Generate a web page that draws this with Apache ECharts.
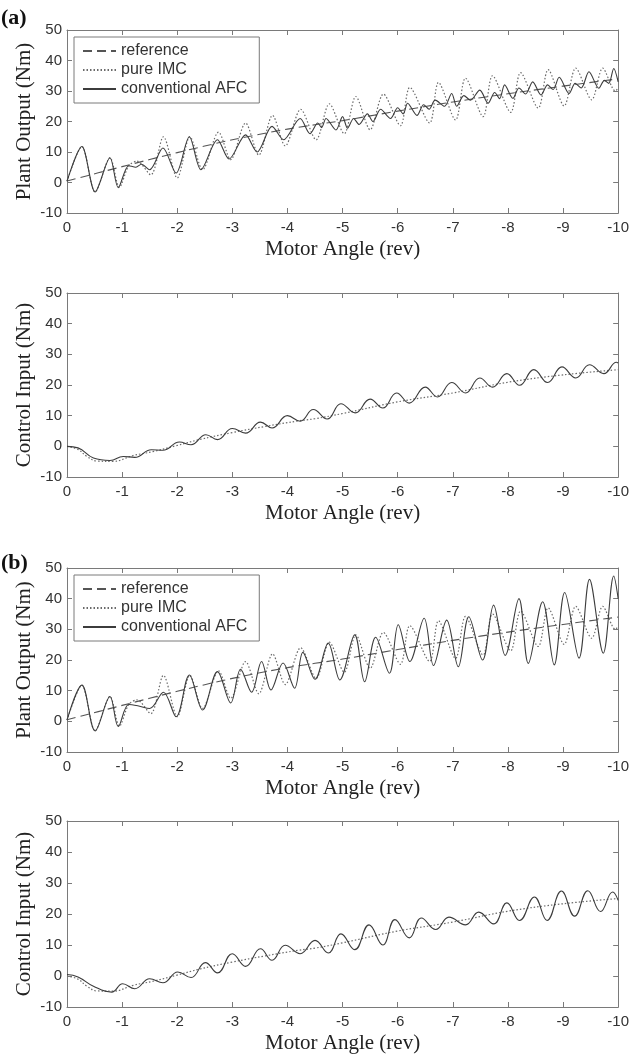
<!DOCTYPE html>
<html><head><meta charset="utf-8">
<script src="https://cdn.jsdelivr.net/npm/echarts@6/dist/echarts.min.js"></script>
<style>html,body{margin:0;padding:0;background:#fff}#c{width:632px;height:1057px}</style>
</head><body><div id="c"></div>
<script>
// ---- data (x = motor angle in rev, y = torque in Nm) ----
const referenceLine = [[0,0.5],[-1,5.2],[-2,9.8],[-3,14],[-4,17.5],[-5,20.3],[-6,23.4],[-7,26.4],[-8,29.1],[-9,31.6],[-10,34]];

const imcPlant = [[0,0.4],[-0.27,11.8],[-0.51,-3.1],[-0.78,8.1],[-0.95,-1.6],[-1.12,5.5],[-1.27,7],[-1.52,2.5],[-1.75,15],[-2.0,1.5],
  [-2.23,15],[-2.46,4.2],[-2.75,16.5],[-2.97,7.5],[-3.24,19.5],[-3.48,9],[-3.73,22],[-3.96,12],[-4.24,24],[-4.52,14],
  [-4.76,25.8],[-5.03,16],[-5.24,28.2],[-5.5,17.3],[-5.74,29],[-6.05,18.6],[-6.22,31.2],[-6.58,19.5],[-6.74,32.8],[-7.05,20.5],
  [-7.23,34.2],[-7.55,21.6],[-7.72,35],[-8.05,23],[-8.23,36],[-8.55,24.4],[-8.73,37],[-9.02,25.1],[-9.23,37.5],[-9.52,27.1],
  [-9.72,37.5],[-9.95,30],[-10,31]];

const afcPlantA = [[0,0.4],[-0.27,11.8],[-0.51,-3.1],[-0.78,8.1],[-0.93,-1.7],[-1.12,5.5],[-1.25,5],[-1.35,6],[-1.5,4.2],[-1.74,11.3],
  [-1.98,3.1],[-2.22,15],[-2.43,4.2],[-2.73,14],[-2.94,7.7],[-3.24,15.6],[-3.45,10],[-3.72,18.4],[-3.93,14],[-4.23,21],
  [-4.41,16],[-4.55,19.5],[-4.62,18],[-4.7,21],[-4.88,17.2],[-5.0,21.6],[-5.09,17.8],[-5.2,21],[-5.3,19],[-5.45,22.5],
  [-5.55,20],[-5.69,24],[-5.87,21],[-6.0,24.5],[-6.1,22.5],[-6.18,26],[-6.35,22],[-6.47,25.5],[-6.57,24],[-6.68,27],
  [-6.85,25],[-6.98,29.2],[-7.07,25],[-7.2,28.5],[-7.32,27],[-7.49,30.3],[-7.64,26],[-7.76,29.5],[-7.85,27.5],[-7.94,32],
  [-8.09,27.6],[-8.2,31],[-8.32,29],[-8.45,33],[-8.6,28.7],[-8.72,32],[-8.82,30.5],[-8.93,34.5],[-9.11,29.2],[-9.22,32.5],
  [-9.33,31],[-9.47,36.3],[-9.65,30.9],[-9.75,33.5],[-9.83,32.5],[-9.92,37.4],[-10,33]];

const afcPlantB = [[0,0.4],[-0.27,11.8],[-0.51,-3.1],[-0.78,8.1],[-0.93,-1.7],[-1.12,5.5],[-1.3,5],[-1.5,4.2],[-1.75,9.5],[-1.98,1.5],
  [-2.22,15.1],[-2.46,3.7],[-2.73,16.2],[-2.97,6],[-3.15,17],[-3.35,9.5],[-3.53,19.5],[-3.7,10.2],[-3.92,19],[-4.13,10.8],
  [-4.28,22.5],[-4.5,13.7],[-4.74,25.5],[-4.95,13.5],[-5.22,28.2],[-5.4,12.9],[-5.6,27.4],[-5.85,15.7],[-6.01,31.5],[-6.22,19.5],
  [-6.48,33.6],[-6.65,18.2],[-6.89,33],[-7.1,17.8],[-7.29,34.1],[-7.54,20],[-7.74,37.9],[-7.95,21.5],[-8.2,40],[-8.37,18.9],
  [-8.63,39],[-8.84,18.4],[-9.03,42],[-9.29,20.6],[-9.48,46.3],[-9.73,22.2],[-9.92,47.4],[-10,40]];

const imcControl = [[0,0],[-0.2,-1],[-0.36,-3.3],[-0.54,-4.8],[-0.84,-4.9],[-1.2,-3],[-1.56,-1.7],[-1.98,0.2],[-2.4,2.2],[-3,4.5],
  [-3.6,6.5],[-4.2,8.3],[-4.5,9],[-5,10.7],[-6,14.5],[-7,17.4],[-8,20.9],[-9,23.3],[-10,25]];

const afcControlA = [[0,0],[-0.2,-0.5],[-0.48,-3.8],[-0.78,-4.6],[-1.02,-3.3],[-1.23,-3.6],[-1.53,-1.1],[-1.74,-1.3],[-2.04,1.4],[-2.25,0.5],
  [-2.52,3.8],[-2.73,2.2],[-3.0,5.8],[-3.24,4.3],[-3.51,7.9],[-3.72,6],[-4.0,10],[-4.23,8.2],[-4.47,12],[-4.72,8.9],
  [-4.97,13.9],[-5.23,10.9],[-5.5,15.4],[-5.73,12.5],[-5.98,17.4],[-6.21,14.1],[-6.5,19.3],[-6.72,16.1],[-6.98,20.8],[-7.23,17.4],
  [-7.49,22.3],[-7.72,19.3],[-7.98,23.7],[-8.21,19.9],[-8.47,25],[-8.72,20.8],[-8.98,25.9],[-9.23,22.3],[-9.48,26.6],[-9.74,23.7],
  [-9.97,27.4],[-10,27.2]];

const afcControlB = [[0,0.5],[-0.2,-0.3],[-0.48,-3.3],[-0.81,-5.2],[-1.01,-2.5],[-1.23,-4.1],[-1.5,-0.9],[-1.74,-2.2],[-2.01,1.3],[-2.25,-0.5],
  [-2.51,4.3],[-2.73,1],[-3.0,7.2],[-3.24,3.1],[-3.51,8.8],[-3.72,5.1],[-3.96,9.9],[-4.23,7.2],[-4.5,11.5],[-4.74,7.4],
  [-4.97,13.6],[-5.22,8.5],[-5.48,16.5],[-5.73,10],[-5.95,18.2],[-6.21,12.3],[-6.43,18.7],[-6.69,15],[-6.93,19],[-7.23,16.5],
  [-7.47,20.6],[-7.74,16.8],[-7.98,23.6],[-8.21,17.9],[-8.48,25.5],[-8.71,17.9],[-8.97,27.4],[-9.21,19.3],[-9.45,27.5],[-9.68,20.8],
  [-9.9,27.1],[-10,24.4]];

const legendNames = ['reference', 'pure IMC', 'conventional AFC'];
const panelLabels = ['(a)', '(b)'];
const yTitles = ['Plant Output (Nm)', 'Control Input (Nm)', 'Plant Output (Nm)', 'Control Input (Nm)'];
const xTitle = 'Motor Angle (rev)';

// ---- layout ----
const gridTops = [30, 293, 568, 821];
const gridHeights = [183, 184, 184, 186];
const boxColor = '#7a7a7a';
const sans = 'Liberation Sans, Arial, sans-serif';
const serif = 'Liberation Serif, Times New Roman, serif';

const grid = gridTops.map((t, i) => ({left: 67, right: 9, top: t, height: gridHeights[i], containLabel: false}));
const xAxis = [], yAxis = [];
grid.forEach((g, i) => {
  const common = {gridIndex: i, type: 'value', min: -10, max: 0, interval: 1, inverse: true,
    axisLine: {show: true, onZero: false, lineStyle: {color: boxColor, width: 1}},
    axisTick: {inside: true, length: 5, lineStyle: {color: boxColor}},
    splitLine: {show: false}};
  xAxis.push(Object.assign({}, common, {position: 'bottom',
    axisLabel: {color: '#333', fontSize: 15, margin: 7, fontFamily: sans},
    name: xTitle, nameLocation: 'middle', nameGap: 26, nameMoveOverlap: false,
    nameTextStyle: {fontFamily: serif, fontSize: 21, color: '#222'}}));
  xAxis.push(Object.assign({}, common, {position: 'top', axisLabel: {show: false}}));
  const ycommon = {gridIndex: i, type: 'value', min: -10, max: 50, interval: 10,
    axisLine: {show: true, onZero: false, lineStyle: {color: boxColor, width: 1}},
    axisTick: {inside: true, length: 5, lineStyle: {color: boxColor}},
    splitLine: {show: false}};
  yAxis.push(Object.assign({}, ycommon, {position: 'left',
    axisLabel: {color: '#333', fontSize: 15, margin: 5, fontFamily: sans},
    name: yTitles[i], nameLocation: 'middle', nameGap: 32, nameMoveOverlap: false,
    nameTextStyle: {fontFamily: serif, fontSize: 21, color: '#222'}}));
  yAxis.push(Object.assign({}, ycommon, {position: 'right', axisLabel: {show: false}}));
});

const refStyle = {color: '#555', width: 1.1, type: [9, 5]};
const imcStyle = {color: '#6a6a6a', width: 1.2, type: [1.5, 2]};
const afcStyle = {color: '#3c3c3c', width: 1.1, type: 'solid'};

function line(name, data, gi, style, smooth) {
  return {name, type: 'line', data, xAxisIndex: 2 * gi, yAxisIndex: 2 * gi,
    showSymbol: false, symbol: 'none', smooth, lineStyle: style, itemStyle: {color: style.color},
    animation: false, z: name === 'conventional AFC' ? 3 : 2};
}

const series = [
  line('reference', referenceLine, 0, refStyle, 0.3),
  line('pure IMC', imcPlant, 0, imcStyle, 0.3),
  line('conventional AFC', afcPlantA, 0, afcStyle, 0.3),
  line('pure IMC', imcControl, 1, imcStyle, 0.4),
  line('conventional AFC', afcControlA, 1, afcStyle, 0.45),
  line('reference', referenceLine, 2, refStyle, 0.3),
  line('pure IMC', imcPlant, 2, imcStyle, 0.3),
  line('conventional AFC', afcPlantB, 2, afcStyle, 0.35),
  line('pure IMC', imcControl, 3, imcStyle, 0.4),
  line('conventional AFC', afcControlB, 3, afcStyle, 0.45)
];

const legendCommon = {orient: 'vertical', left: 74, data: legendNames, itemWidth: 33, itemHeight: 14, itemGap: 3,
  backgroundColor: '#fff', borderColor: boxColor, borderWidth: 1, padding: [6, 12, 6, 8],
  itemStyle: {opacity: 0, borderWidth: 0},
  textStyle: {fontFamily: sans, fontSize: 16, color: '#333'}, selectedMode: false};

const option = {
  backgroundColor: '#fff',
  animation: false,
  title: [
    {text: panelLabels[0], left: 1, top: 7, padding: 0, textStyle: {fontFamily: serif, fontWeight: 'bold', fontSize: 22, color: '#111'}},
    {text: panelLabels[1], left: 1, top: 552, padding: 0, textStyle: {fontFamily: serif, fontWeight: 'bold', fontSize: 22, color: '#111'}}
  ],
  legend: [Object.assign({}, legendCommon, {top: 37}), Object.assign({}, legendCommon, {top: 575})],
  grid, xAxis, yAxis, series
};

const chart = echarts.init(document.getElementById('c'), null, {renderer: 'canvas'});
chart.setOption(option);
</script>
</body></html>
